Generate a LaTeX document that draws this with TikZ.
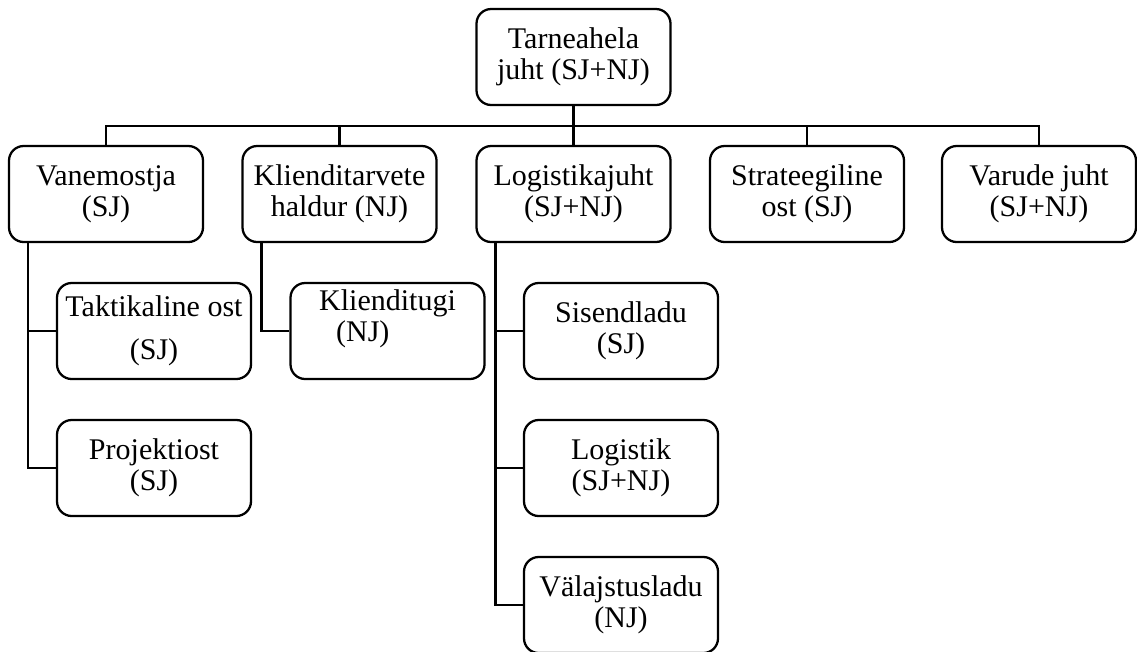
\documentclass[tikz,border=0pt]{standalone}
\usepackage{fontspec}
\setmainfont{Liberation Serif}
\usepackage{tikz}
\usetikzlibrary{calc}

\begin{document}
\begin{tikzpicture}[x=0.75pt, y=-0.75pt,
    amet/.style={draw, line width=1.7pt, rounded corners=11pt, minimum width=145.5pt, minimum height=72pt,
      inner sep=0pt, align=center, font=\fontsize{22.5}{23.5}\selectfont},
    joon/.style={line width=1.7pt}]
    %\draw[step=100, gray, very thin] (0, 0) grid (1137, 651);
    \useasboundingbox (0, 0) rectangle (1137, 651);

    \node[amet] (juht) at (573.5, 57) {Tarneahela\\juht (SJ+NJ)};

    \node[amet] (vanem) at (106, 194) {Vanemostja\\(SJ)};
    \node[amet] (haldur) at (339.5, 194) {Klienditarvete\\haldur (NJ)};
    \node[amet] (logjuht) at (573.5, 194) {Logistikajuht\\(SJ+NJ)};
    \node[amet] (strat) at (807, 194) {Strateegiline\\ost (SJ)};
    \node[amet] (varud) at (1039, 194) {Varude juht\\(SJ+NJ)};

    \node[amet] (taktika) at (154, 331) {Taktikaline ost\\[9pt](SJ)};
    \node[amet] (projekt) at (154, 468) {Projektiost\\(SJ)};
    \node[amet] (tugi) at (387.5, 331) {Klienditugi\\\hspace*{-37pt}(NJ)\\\mbox{}};
    \node[amet] (sisend) at (621, 331) {Sisendladu\\(SJ)};
    \node[amet] (logistik) at (621, 468) {Logistik\\(SJ+NJ)};
    \node[amet] (valjast) at (621, 605) {Välajstusladu\\(NJ)};

    \draw[joon] (juht.south) -- ++(0, 20) -| (vanem.north);
    \draw[joon] (juht.south) -- ++(0, 20) -| (haldur.north);
    \draw[joon] (juht.south) -- (logjuht.north);
    \draw[joon] (juht.south) -- ++(0, 20) -| (strat.north);
    \draw[joon] (juht.south) -- ++(0, 20) -| (varud.north);

    \draw[joon] ([xshift=15pt]vanem.south west) |- (taktika.west);
    \draw[joon] ([xshift=15pt]vanem.south west) |- (projekt.west);
    \draw[joon] ([xshift=15pt]haldur.south west) |- (tugi.west);
    \draw[joon] ([xshift=15pt]logjuht.south west) |- (sisend.west);
    \draw[joon] ([xshift=15pt]logjuht.south west) |- (logistik.west);
    \draw[joon] ([xshift=15pt]logjuht.south west) |- (valjast.west);

  \end{tikzpicture}
\end{document}
